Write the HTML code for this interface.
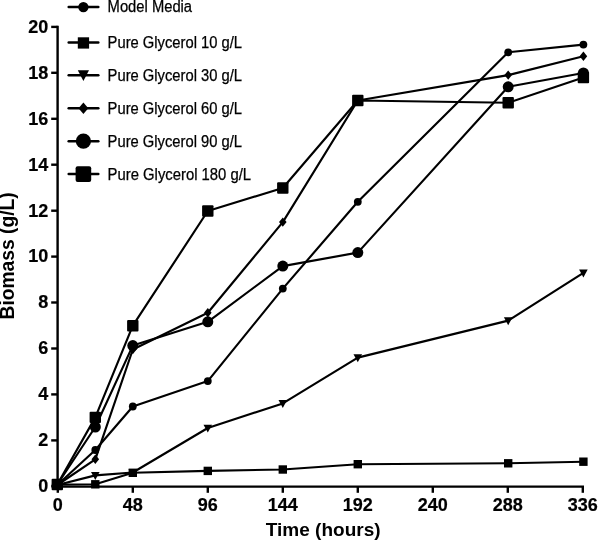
<!DOCTYPE html>
<html><head><meta charset="utf-8"><title>Biomass vs Time</title>
<style>
html,body{margin:0;padding:0;background:#fff;}
body{width:598px;height:541px;overflow:hidden;}
svg{display:block;}
text{font-family:"Liberation Sans",sans-serif;fill:#000;}
.tk{font-weight:bold;font-size:18px;stroke:#000;stroke-width:0.2px;}
.lg{font-size:15.8px;stroke:#000;stroke-width:0.25px;}
.ttl{font-weight:bold;font-size:19px;}
</style></head><body>
<svg width="598" height="541" viewBox="0 0 598 541">
<rect width="598" height="541" fill="#fff"/>

<g stroke="#000" stroke-width="2.4" fill="none" stroke-linecap="square">
<path d="M57.6 27.0 V486.6 H582.8"/>
<path d="M51.2 486.3 H57.6" stroke-linecap="butt"/>
<path d="M51.2 440.4 H57.6" stroke-linecap="butt"/>
<path d="M51.2 394.4 H57.6" stroke-linecap="butt"/>
<path d="M51.2 348.5 H57.6" stroke-linecap="butt"/>
<path d="M51.2 302.5 H57.6" stroke-linecap="butt"/>
<path d="M51.2 256.6 H57.6" stroke-linecap="butt"/>
<path d="M51.2 210.7 H57.6" stroke-linecap="butt"/>
<path d="M51.2 164.7 H57.6" stroke-linecap="butt"/>
<path d="M51.2 118.8 H57.6" stroke-linecap="butt"/>
<path d="M51.2 72.8 H57.6" stroke-linecap="butt"/>
<path d="M51.2 26.9 H57.6" stroke-linecap="butt"/>
<path d="M57.8 486.6 V492.8" stroke-linecap="butt"/>
<path d="M132.8 486.6 V492.8" stroke-linecap="butt"/>
<path d="M207.8 486.6 V492.8" stroke-linecap="butt"/>
<path d="M282.8 486.6 V492.8" stroke-linecap="butt"/>
<path d="M357.8 486.6 V492.8" stroke-linecap="butt"/>
<path d="M432.8 486.6 V492.8" stroke-linecap="butt"/>
<path d="M507.8 486.6 V492.8" stroke-linecap="butt"/>
<path d="M582.8 486.6 V492.8" stroke-linecap="butt"/>
</g>
<text class="tk" x="48.2" y="492.1" text-anchor="end">0</text>
<text class="tk" x="48.2" y="446.2" text-anchor="end">2</text>
<text class="tk" x="48.2" y="400.2" text-anchor="end">4</text>
<text class="tk" x="48.2" y="354.3" text-anchor="end">6</text>
<text class="tk" x="48.2" y="308.3" text-anchor="end">8</text>
<text class="tk" x="48.2" y="262.4" text-anchor="end">10</text>
<text class="tk" x="48.2" y="216.5" text-anchor="end">12</text>
<text class="tk" x="48.2" y="170.5" text-anchor="end">14</text>
<text class="tk" x="48.2" y="124.6" text-anchor="end">16</text>
<text class="tk" x="48.2" y="78.6" text-anchor="end">18</text>
<text class="tk" x="48.2" y="32.7" text-anchor="end">20</text>
<text class="tk" x="57.8" y="511.3" text-anchor="middle">0</text>
<text class="tk" x="132.8" y="511.3" text-anchor="middle">48</text>
<text class="tk" x="207.8" y="511.3" text-anchor="middle">96</text>
<text class="tk" x="282.8" y="511.3" text-anchor="middle">144</text>
<text class="tk" x="357.8" y="511.3" text-anchor="middle">192</text>
<text class="tk" x="432.8" y="511.3" text-anchor="middle">240</text>
<text class="tk" x="507.8" y="511.3" text-anchor="middle">288</text>
<text class="tk" x="582.8" y="511.3" text-anchor="middle">336</text>
<text class="ttl" x="323.2" y="536.3" text-anchor="middle">Time (hours)</text>
<text class="ttl" style="font-size:19.5px" transform="translate(14.2,255.9) rotate(-90)" text-anchor="middle" textLength="127" lengthAdjust="spacingAndGlyphs">Biomass (g/L)</text>
<polyline points="57.3,485.0 95.3,450.0 132.8,406.5 207.8,381.1 282.8,288.6 357.8,201.8 508.2,52.3 583.4,44.6" fill="none" stroke="#000" stroke-width="2.15" stroke-linejoin="round"/>
<polyline points="57.3,484.6 95.3,484.3 132.8,472.8 207.8,470.9 282.8,469.5 357.8,464.2 508.2,463.3 583.4,461.7" fill="none" stroke="#000" stroke-width="2.15" stroke-linejoin="round"/>
<polyline points="57.3,485.0 95.3,475.4 132.8,472.5 207.8,428.0 282.8,403.4 357.8,357.6 508.2,320.6 583.4,272.8" fill="none" stroke="#000" stroke-width="2.15" stroke-linejoin="round"/>
<polyline points="57.3,485.0 95.3,459.3 132.8,349.5 207.8,312.8 282.8,222.1 357.8,100.5 508.2,75.1 583.4,56.2" fill="none" stroke="#000" stroke-width="2.15" stroke-linejoin="round"/>
<polyline points="57.3,484.5 95.3,427.0 132.8,345.6 207.8,321.8 282.8,266.1 357.8,252.6 508.2,86.8 583.4,73.0" fill="none" stroke="#000" stroke-width="2.15" stroke-linejoin="round"/>
<polyline points="57.3,484.5 95.3,417.4 132.8,325.7 207.8,211.0 282.8,188.0 357.8,100.5 508.2,102.8 583.4,77.5" fill="none" stroke="#000" stroke-width="2.15" stroke-linejoin="round"/>
<g fill="#000"><circle cx="57.3" cy="485.0" r="3.9"/><circle cx="95.3" cy="450.0" r="3.9"/><circle cx="132.8" cy="406.5" r="3.9"/><circle cx="207.8" cy="381.1" r="3.9"/><circle cx="282.8" cy="288.6" r="3.9"/><circle cx="357.8" cy="201.8" r="3.9"/><circle cx="508.2" cy="52.3" r="3.9"/><circle cx="583.4" cy="44.6" r="3.9"/></g>
<g fill="#000"><rect x="53.1" y="480.4" width="8.4" height="8.4"/><rect x="91.1" y="480.1" width="8.4" height="8.4"/><rect x="128.6" y="468.6" width="8.4" height="8.4"/><rect x="203.6" y="466.7" width="8.4" height="8.4"/><rect x="278.6" y="465.3" width="8.4" height="8.4"/><rect x="353.6" y="460.0" width="8.4" height="8.4"/><rect x="504.0" y="459.1" width="8.4" height="8.4"/><rect x="579.2" y="457.5" width="8.4" height="8.4"/></g>
<g fill="#000"><polygon points="53.0,481.7 61.6,481.7 57.3,489.6"/><polygon points="91.0,472.1 99.6,472.1 95.3,480.0"/><polygon points="128.5,469.2 137.1,469.2 132.8,477.1"/><polygon points="203.5,424.7 212.1,424.7 207.8,432.6"/><polygon points="278.5,400.1 287.1,400.1 282.8,408.0"/><polygon points="353.5,354.3 362.1,354.3 357.8,362.2"/><polygon points="503.9,317.3 512.5,317.3 508.2,325.2"/><polygon points="579.1,269.5 587.7,269.5 583.4,277.4"/></g>
<g fill="#000"><polygon points="57.3,480.3 61.1,485.0 57.3,489.7 53.5,485.0"/><polygon points="95.3,454.6 99.1,459.3 95.3,464.0 91.5,459.3"/><polygon points="132.8,344.8 136.6,349.5 132.8,354.2 129.0,349.5"/><polygon points="207.8,308.1 211.6,312.8 207.8,317.5 204.0,312.8"/><polygon points="282.8,217.4 286.6,222.1 282.8,226.8 279.0,222.1"/><polygon points="357.8,95.8 361.6,100.5 357.8,105.2 354.0,100.5"/><polygon points="508.2,70.4 512.0,75.1 508.2,79.8 504.4,75.1"/><polygon points="583.4,51.5 587.2,56.2 583.4,60.9 579.6,56.2"/></g>
<g fill="#000"><circle cx="57.3" cy="484.5" r="5.5"/><circle cx="95.3" cy="427.0" r="5.5"/><circle cx="132.8" cy="345.6" r="5.5"/><circle cx="207.8" cy="321.8" r="5.5"/><circle cx="282.8" cy="266.1" r="5.5"/><circle cx="357.8" cy="252.6" r="5.5"/><circle cx="508.2" cy="86.8" r="5.5"/><circle cx="583.4" cy="73.0" r="5.5"/></g>
<g fill="#000"><rect x="51.6" y="478.8" width="11.4" height="11.4" rx="1"/><rect x="89.6" y="411.7" width="11.4" height="11.4" rx="1"/><rect x="127.1" y="320.0" width="11.4" height="11.4" rx="1"/><rect x="202.1" y="205.3" width="11.4" height="11.4" rx="1"/><rect x="277.1" y="182.3" width="11.4" height="11.4" rx="1"/><rect x="352.1" y="94.8" width="11.4" height="11.4" rx="1"/><rect x="502.5" y="97.1" width="11.4" height="11.4" rx="1"/><rect x="577.7" y="71.8" width="11.4" height="11.4" rx="1"/></g>
<path d="M68.7 7.1 H98.3" stroke="#000" stroke-width="2.5" stroke-linecap="round"/>
<g fill="#000"><circle cx="83.4" cy="7.1" r="5.2"/></g>
<text class="lg" x="107.6" y="12.0" textLength="84.5" lengthAdjust="spacingAndGlyphs">Model Media</text>
<path d="M68.7 42.6 H98.3" stroke="#000" stroke-width="2.5" stroke-linecap="round"/>
<g fill="#000"><rect x="77.8" y="37.3" width="11.3" height="11.3"/></g>
<text class="lg" x="107.6" y="47.8" textLength="134.5" lengthAdjust="spacingAndGlyphs">Pure Glycerol 10 g/L</text>
<path d="M68.7 75.2 H98.3" stroke="#000" stroke-width="2.5" stroke-linecap="round"/>
<g fill="#000"><polygon points="77.8,70.2 89.0,70.2 83.4,81.0"/></g>
<text class="lg" x="107.6" y="80.7" textLength="134.5" lengthAdjust="spacingAndGlyphs">Pure Glycerol 30 g/L</text>
<path d="M68.7 108.3 H98.3" stroke="#000" stroke-width="2.5" stroke-linecap="round"/>
<g fill="#000"><polygon points="83.4,102.5 88.3,108.3 83.4,114.1 78.5,108.3"/></g>
<text class="lg" x="107.6" y="114.1" textLength="134.5" lengthAdjust="spacingAndGlyphs">Pure Glycerol 60 g/L</text>
<path d="M68.7 141.2 H98.3" stroke="#000" stroke-width="2.5" stroke-linecap="round"/>
<g fill="#000"><circle cx="83.4" cy="141.2" r="7.6"/></g>
<text class="lg" x="107.6" y="146.9" textLength="134.5" lengthAdjust="spacingAndGlyphs">Pure Glycerol 90 g/L</text>
<path d="M68.7 174.1 H98.3" stroke="#000" stroke-width="2.5" stroke-linecap="round"/>
<g fill="#000"><rect x="75.6" y="166.3" width="15.6" height="15.6" rx="2"/></g>
<text class="lg" x="107.6" y="179.6" textLength="143.5" lengthAdjust="spacingAndGlyphs">Pure Glycerol 180 g/L</text>
</svg></body></html>
